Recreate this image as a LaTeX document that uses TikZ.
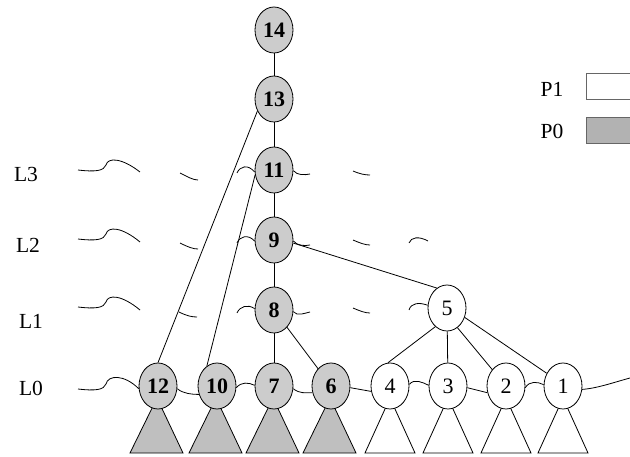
\documentclass[tikz,border=0pt]{standalone}
\usepackage{fontspec}
\setmainfont{Liberation Serif}
\usetikzlibrary{shapes.geometric}
\begin{document}
\begin{tikzpicture}[x=1pt,y=-1pt,
  base/.style={ellipse, draw, minimum width=38pt, minimum height=46pt, inner sep=0pt, line width=0.8pt},
  pzero/.style={base, fill=black!20, font=\fontsize{22}{26}\selectfont\bfseries},
  pone/.style={base, fill=white, font=\fontsize{22}{26}\selectfont},
  trizero/.style={draw, line width=0.8pt, fill=black!25, line join=miter},
  trione/.style={draw, line width=0.8pt, fill=white, line join=miter},
  edge/.style={line width=0.8pt},
  wave/.style={line width=0.8pt},
  lab/.style={font=\fontsize{21.5}{26}\selectfont, inner sep=0pt},
  legbox/.style={draw=black!60, line width=0.8pt}
]
\useasboundingbox (0,0) rectangle (630,457);

% subtrees (triangles)
\foreach \c in {158,217,274,331} {
  \draw[trizero] (\c-28,453) -- (\c-1,398) -- (\c+25,453) -- cycle;
}
\foreach \c in {390,448,506,563} {
  \draw[trione] (\c-25,453) -- (\c,398) -- (\c+25,453) -- cycle;
}

% nodes
\node[pzero] (n14) at (274,30) {14};
\node[pzero] (n13) at (274,99) {13};
\node[pzero] (n11) at (274,170) {11};
\node[pzero] (n9)  at (274,240) {9};
\node[pzero] (n8)  at (274,310) {8};
\node[pone]  (n5)  at (447,308) {5};
\node[pzero] (n12) at (158,386) {12};
\node[pzero] (n10) at (217,386) {10};
\node[pzero] (n7)  at (274,386) {7};
\node[pzero] (n6)  at (331,386) {6};
\node[pone]  (n4)  at (390,386) {4};
\node[pone]  (n3)  at (448,386) {3};
\node[pone]  (n2)  at (506,386) {2};
\node[pone]  (n1)  at (563,386) {1};

% tree edges
\draw[edge] (n14) -- (n13);
\draw[edge] (n13) -- (n11);
\draw[edge] (n11) -- (n9);
\draw[edge] (n9) -- (n8);
\draw[edge] (n8) -- (n7);
\draw[edge] (n8) -- (n6);
\draw[edge] (n9.-9) -- (n5.117);
\draw[edge] (n5.238) -- (n4.95);
\draw[edge] (n5) -- (n3);
\draw[edge] (n5.-62) -- (n2.130);
\draw[edge] (n5.-28) -- (n1.142);
\draw[edge] (n13.216) -- (n12.north);
\draw[edge] (n11.195) -- (n10.117);

% level L0 links
\coordinate (l0s) at (78,389);
\coordinate (l0e) at (630,378);
\draw[wave] (l0s) .. controls (95,391) and (104,390) .. (106,384)
  .. controls (108,375) and (124,374) .. (n12.188);
\draw[wave] (n12.-8) .. controls +(6,5) and +(-7,0) .. (n10.205);
\draw[wave] (n10.-5) .. controls +(5,-6) and +(-6,-3) .. (n7.178);
\draw[wave] (n7.-8) .. controls +(6,5) and +(-7,0) .. (n6.200);
\draw[wave] (n6.-5) -- (n4.196);
\draw[wave] (n4.5) .. controls +(5,-6) and +(-6,-3) .. (n3.178);
\draw[wave] (n3.-5) -- (n2.200);
\draw[wave] (n2.-5) .. controls +(4,-7) and +(-6,-3) .. (n1.176);
\draw[wave] (n1.-10) .. controls +(15,-1) and +(-15,4) .. (l0e);

% level L1 links
\draw[wave] (78,307) .. controls (95,309) and (104,308) .. (106,302)
  .. controls (108,294) and (122,295) .. (140,310);
\draw[wave] (179,312) .. controls (187,316) and (192,317) .. (197,317);
\coordinate (a1) at (237,313);
\draw[wave] (a1) .. controls (240,306) and (248,304) .. (n8.176);
\coordinate (b1) at (310,312);
\draw[wave] (n8.-5) .. controls +(4,5) and +(-5,1) .. (b1);
\draw[wave] (353,308) .. controls (360,311) and (365,313) .. (370,313);
\coordinate (c1) at (409,310);
\draw[wave] (c1) .. controls (411,303) and (419,302) .. (n5.172);

% level L2 links
\draw[wave] (78,239) .. controls (95,241) and (104,240) .. (106,234)
  .. controls (108,226) and (122,227) .. (140,242);
\draw[wave] (180,243) .. controls (188,247) and (193,249) .. (198,249);
\coordinate (a2) at (237,243);
\draw[wave] (a2) .. controls (240,236) and (248,234) .. (n9.183);
\coordinate (b2) at (310,245);
\draw[wave] (n9.-3) .. controls +(4,5) and +(-5,1) .. (b2);
\draw[wave] (353,240) .. controls (360,243) and (365,245) .. (370,245);
\draw[wave] (409,243) .. controls (411,237) and (419,236) .. (428,241);

% level L3 links
\draw[wave] (78,170) .. controls (95,172) and (104,171) .. (106,165)
  .. controls (108,157) and (122,158) .. (140,172);
\draw[wave] (180,173) .. controls (188,177) and (193,180) .. (198,180);
\coordinate (a3) at (237,173);
\draw[wave] (a3) .. controls (240,166) and (248,164) .. (n11.186);
\coordinate (b3) at (310,174);
\draw[wave] (n11.-2) .. controls +(4,5) and +(-5,1) .. (b3);
\draw[wave] (353,171) .. controls (360,174) and (365,175) .. (370,175);

% level labels
\node[lab] (lL3) at (26,174) {L3};
\node[lab] (lL2) at (28,245) {L2};
\node[lab] (lL1) at (31,321) {L1};
\node[lab] (lL0) at (31,388) {L0};

% legend
\node[lab] (tP1) at (552,89) {P1};
\node[lab] (tP0) at (552,131) {P0};
\fill[white] (586,73) rectangle (630,99);
\draw[legbox] (630,73) -- (586,73) -- (586,99) -- (630,99);
\fill[black!30] (586,117) rectangle (630,143);
\draw[legbox] (630,117) -- (586,117) -- (586,143) -- (630,143);
\end{tikzpicture}
\end{document}
